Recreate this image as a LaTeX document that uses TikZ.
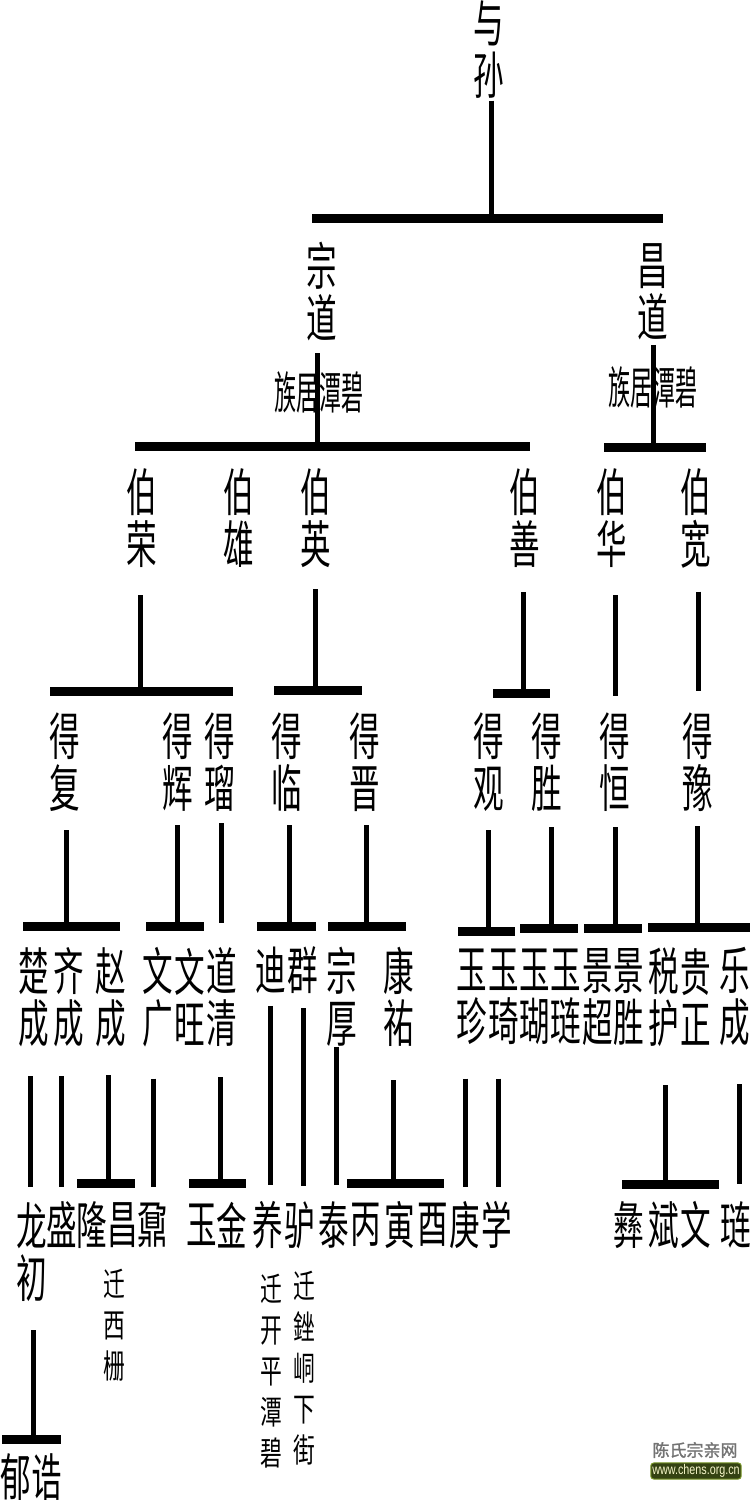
\documentclass[tikz,border=0pt]{standalone}
\usepackage{fontspec}
\usepackage{xcolor}
\newfontfamily\cjk[FakeStretch=0.6]{Noto Sans CJK SC}
\newfontfamily\cjkseat[FakeStretch=0.49]{Noto Sans CJK SC}
\newfontfamily\cjkmove[FakeStretch=0.66]{Noto Sans CJK SC}
\newfontfamily\cjkmark[FakeBold=1.5]{Noto Sans CJK SC}
\newfontfamily\urlfont[FakeStretch=0.77]{Liberation Sans}
\definecolor{markgreen}{RGB}{52,66,18}
\definecolor{markglow}{RGB}{120,150,40}
\definecolor{markyellow}{RGB}{245,245,200}

\begin{document}
\begin{tikzpicture}[x=1pt, y=-1pt,
    person/.style={inner sep=0pt, align=center, font=\cjk\fontsize{51}{52}\selectfont},
    seat/.style={inner sep=0pt, font=\cjkseat\fontsize{45}{45}\selectfont},
    moved/.style={inner sep=0pt, align=center, font=\cjkmove\fontsize{33}{41}\selectfont},
    drop/.style={line width=5pt},
    crossbar/.style={line width=9pt}]
    \useasboundingbox (0,0) rectangle (750,1500);

    % Generation 0 and 1
    \node[person] (yusun) at (489,49.5) {与\\孙};
    \node[person] (zongdao) at (322,291.5) {宗\\道};
    \node[person] (changdao) at (653,292) {昌\\道};
    \node[seat] (seat1) at (319,392) {族居潭碧};
    \node[seat] (seat2) at (653,387) {族居潭碧};

    % Generation 2
    \node[person] (borong) at (142,518) {伯\\荣};
    \node[person] (boxiong) at (239,518) {伯\\雄};
    \node[person] (boying) at (316,518) {伯\\英};
    \node[person] (boshan) at (525,518) {伯\\善};
    \node[person] (bohua) at (612,518) {伯\\华};
    \node[person] (bokuan) at (696,518) {伯\\宽};

    % Generation 3
    \node[person] (defu) at (65,762.5) {得\\复};
    \node[person] (dehui) at (178,762.5) {得\\辉};
    \node[person] (deliu) at (220,762.5) {得\\瑠};
    \node[person] (delin) at (287,762.5) {得\\临};
    \node[person] (dejin) at (365,762.5) {得\\晋};
    \node[person] (deguan) at (489,762.5) {得\\观};
    \node[person] (desheng) at (547,762.5) {得\\胜};
    \node[person] (deheng) at (615,762.5) {得\\恒};
    \node[person] (deyu) at (698,762.5) {得\\豫};

    % Generation 4
    \node[person] (chucheng) at (34,997) {楚\\成};
    \node[person] (qicheng) at (69,997) {齐\\成};
    \node[person] (zhaocheng) at (111,997) {赵\\成};
    \node[person] (wenguang) at (158,997) {文\\广};
    \node[person] (wenwang) at (190,997) {文\\旺};
    \node[person] (daoqing) at (222,997) {道\\清};
    \node[person] (di) at (271,970) {迪};
    \node[person] (qun) at (303,970) {群};
    \node[person] (zonghou) at (342,997) {宗\\厚};
    \node[person] (kangyou) at (399,997) {康\\祐};
    \node[person] (yuzhen) at (472,997) {玉\\珍};
    \node[person] (yuqi) at (504,997) {玉\\琦};
    \node[person] (yuhu) at (535,997) {玉\\瑚};
    \node[person] (yulian) at (566,997) {玉\\琏};
    \node[person] (jingchao) at (598,997) {景\\超};
    \node[person] (jingsheng) at (629,997) {景\\胜};
    \node[person] (shuihu) at (664,997) {税\\护};
    \node[person] (guizheng) at (696,997) {贵\\正};
    \node[person] (lecheng) at (735,997) {乐\\成};

    % Generation 5
    \node[person] (longchu) at (32,1252) {龙\\初};
    \node[person] (sheng) at (62,1225) {盛};
    \node[person] (long) at (92,1225) {隆};
    \node[person] (chang) at (123,1225) {昌};
    \node[person] (nai) at (153,1225) {鼐};
    \node[person] (yu) at (202,1225) {玉};
    \node[person] (jin) at (232,1225) {金};
    \node[person] (yang) at (268,1225) {养};
    \node[person] (lv) at (300,1225) {驴};
    \node[person] (tai) at (334,1225) {泰};
    \node[person] (bing) at (366,1225) {丙};
    \node[person] (yin) at (400,1225) {寅};
    \node[person] (you) at (433,1225) {酉};
    \node[person] (geng) at (465,1225) {庚};
    \node[person] (xue) at (497,1225) {学};
    \node[person] (yi) at (629,1225) {彝};
    \node[person] (bin) at (664,1225) {斌};
    \node[person] (wen) at (696,1225) {文};
    \node[person] (lian) at (736,1225) {琏};
    \node[moved] (move1) at (114,1325) {迁\\西\\栅};
    \node[moved] (move2) at (271,1371) {迁\\开\\平\\潭\\碧};
    \node[moved] (move3) at (304,1368) {迁\\銼\\峒\\下\\街};

    % Generation 6
    \node[person] (yugao) at (31,1477) {郁诰};

    % Lines, generation 0 to 2
    \coordinate (sunfoot) at (491,218);
    \draw[drop] (sunfoot |- yusun.south) ++(0,2) -- (sunfoot);
    \draw[crossbar] (sunfoot) +(-179,0) -- +(172,0);
    \coordinate (zongfoot) at (317,446);
    \draw[drop] (zongfoot |- zongdao.south) ++(0,12) -- (zongfoot);
    \draw[crossbar] (zongfoot) +(-182,0) -- +(213,0);
    \coordinate (changfoot) at (653,447);
    \draw[drop] (changfoot |- changdao.south) ++(0,4.5) -- (changfoot);
    \draw[crossbar] (changfoot) +(-49,0) -- +(53,0);

    % Lines, generation 2 to 3
    \coordinate (rongfoot) at (140,691);
    \draw[drop] (rongfoot |- borong.south) ++(0,27.5) -- (rongfoot);
    \draw[crossbar] (rongfoot) +(-90,0) -- +(93,0);
    \coordinate (yingfoot) at (315,690);
    \draw[drop] (yingfoot |- boying.south) ++(0,21.5) -- (yingfoot);
    \draw[crossbar] (yingfoot) +(-41,0) -- +(47,0);
    \coordinate (shanfoot) at (523,693);
    \draw[drop] (shanfoot |- boshan.south) ++(0,24.5) -- (shanfoot);
    \draw[crossbar] (shanfoot) +(-30,0) -- +(27,0);
    \coordinate (huafoot) at (615,696);
    \draw[drop] (huafoot |- bohua.south) ++(0,27.5) -- (huafoot);
    \coordinate (kuanfoot) at (698,691);
    \draw[drop] (kuanfoot |- bokuan.south) ++(0,23.5) -- (kuanfoot);

    % Lines, generation 3 to 4
    \coordinate (fufoot) at (66,926);
    \draw[drop] (fufoot |- defu.south) ++(0,18) -- (fufoot);
    \draw[crossbar] (fufoot) +(-43,0) -- +(54,0);
    \coordinate (huifoot) at (177,926);
    \draw[drop] (huifoot |- dehui.south) ++(0,13) -- (huifoot);
    \draw[crossbar] (huifoot) +(-31,0) -- +(27,0);
    \coordinate (liufoot) at (221,923);
    \draw[drop] (liufoot |- deliu.south) ++(0,11) -- (liufoot);
    \coordinate (linfoot) at (289,926);
    \draw[drop] (linfoot |- delin.south) ++(0,13) -- (linfoot);
    \draw[crossbar] (linfoot) +(-32,0) -- +(27,0);
    \coordinate (jinfoot) at (366,926);
    \draw[drop] (jinfoot |- dejin.south) ++(0,13) -- (jinfoot);
    \draw[crossbar] (jinfoot) +(-38,0) -- +(40,0);
    \coordinate (guanfoot) at (488,931);
    \draw[drop] (guanfoot |- deguan.south) ++(0,18) -- (guanfoot);
    \draw[crossbar] (guanfoot) +(-30,0) -- +(27,0);
    \coordinate (shengfoot) at (551,928);
    \draw[drop] (shengfoot |- desheng.south) ++(0,15) -- (shengfoot);
    \draw[crossbar] (shengfoot) +(-31,0) -- +(27,0);
    \coordinate (hengfoot) at (615,928);
    \draw[drop] (hengfoot |- deheng.south) ++(0,15) -- (hengfoot);
    \draw[crossbar] (hengfoot) +(-31,0) -- +(27,0);
    \coordinate (yufoot) at (697,927);
    \draw[drop] (yufoot |- deyu.south) ++(0,14) -- (yufoot);
    \draw[crossbar] (yufoot) +(-49,0) -- +(53,0);

    % Lines, generation 4 to 6
    \coordinate (chufoot) at (30,1187);
    \draw[drop] (chufoot |- chucheng.south) ++(0,29.5) -- (chufoot);
    \coordinate (qifoot) at (61,1187);
    \draw[drop] (qifoot |- qicheng.south) ++(0,29.5) -- (qifoot);
    \coordinate (zhaofoot) at (108,1183);
    \draw[drop] (zhaofoot |- zhaocheng.south) ++(0,28.5) -- (zhaofoot);
    \draw[crossbar] (zhaofoot) +(-31,0) -- +(27,0);
    \coordinate (guangfoot) at (153,1187);
    \draw[drop] (guangfoot |- wenguang.south) ++(0,31.5) -- (guangfoot);
    \coordinate (qingfoot) at (220,1183);
    \draw[drop] (qingfoot |- daoqing.south) ++(0,30.5) -- (qingfoot);
    \draw[crossbar] (qingfoot) +(-31,0) -- +(26,0);
    \coordinate (difoot) at (270,1185);
    \draw[drop] (difoot |- di.south) ++(0,12.5) -- (difoot);
    \coordinate (qunfoot) at (303,1186);
    \draw[drop] (qunfoot |- qun.south) ++(0,14.5) -- (qunfoot);
    \coordinate (houfoot) at (336,1185);
    \draw[drop] (houfoot |- zonghou.south) -- (houfoot);
    \coordinate (kangfoot) at (393,1183);
    \draw[drop] (kangfoot |- kangyou.south) ++(0,33.5) -- (kangfoot);
    \draw[crossbar] (kangfoot) +(-46,0) -- +(51,0);
    \coordinate (zhenfoot) at (465,1187);
    \draw[drop] (zhenfoot |- yuzhen.south) ++(0,33.5) -- (zhenfoot);
    \coordinate (qifoot2) at (498,1187);
    \draw[drop] (qifoot2 |- yuqi.south) ++(0,33.5) -- (qifoot2);
    \coordinate (shuifoot) at (665,1184);
    \draw[drop] (shuifoot |- shuihu.south) ++(0,38.5) -- (shuifoot);
    \draw[crossbar] (shuifoot) +(-43,0) -- +(54,0);
    \coordinate (lefoot) at (739,1184);
    \draw[drop] (lefoot |- lecheng.south) ++(0,37.5) -- (lefoot);
    \coordinate (longfoot) at (33,1439);
    \draw[drop] (longfoot |- longchu.south) ++(0,28.5) -- (longfoot);
    \draw[crossbar] (longfoot) +(-31,0) -- +(28,0);

    % Site mark
    \node[font=\cjkmark\fontsize{17}{17}\selectfont, text=black!55, inner sep=0pt] (sitename) at (695,1450) {陈氏宗亲网};
    \node[font=\urlfont\fontsize{14}{14}\selectfont, text=markyellow, fill=markgreen, draw=markglow, line width=1pt, rounded corners=3pt, inner sep=1.5pt] (siteurl) at (696,1471) {www.chens.org.cn};
\end{tikzpicture}
\end{document}
